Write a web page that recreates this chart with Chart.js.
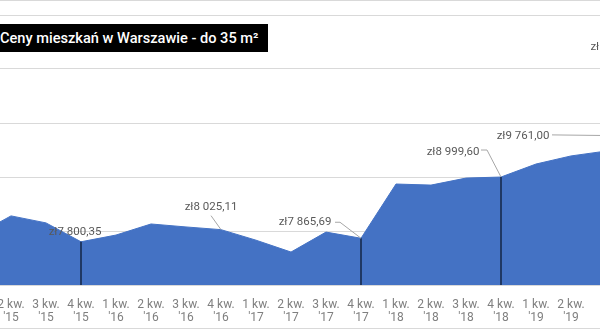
<!DOCTYPE html>
<html lang="pl">
<head>
    <meta charset="UTF-8">
    <script src="https://cdnjs.cloudflare.com/ajax/libs/Chart.js/4.4.1/chart.umd.min.js"></script>
    <title>Ceny mieszkań w Warszawie</title>
    <style>
        html, body {
            margin: 0;
            padding: 0;
            background: #fff;
            font-family: Roboto, Arial, sans-serif;
        }

        #wrap {
            position: relative;
            width: 600px;
            height: 330px;
            overflow: hidden;
        }

        #chart {
            position: absolute;
            left: 0;
            top: 0;
        }

        .frame-line {
            position: absolute;
            left: 0;
            width: 600px;
            height: 1px;
            background: #d9d9d9;
        }

        .title {
            position: absolute;
            left: 0;
            top: 24px;
            width: 268px;
            height: 28px;
            line-height: 28px;
            background: #000;
            color: #fff;
            font-size: 14.6px;
            font-weight: 500;
            white-space: nowrap;
            overflow: hidden;
        }
    </style>
</head>
<body>
    <div id="wrap">
        <canvas id="chart" width="600" height="330"></canvas>
        <div class="frame-line" style="top:0"></div>
        <div class="frame-line" style="top:328px"></div>
        <div class="title">Ceny mieszkań w Warszawie - do 35 m²</div>
    </div>
    <script>
        const quarters = ['1 kw.', '2 kw.', '3 kw.', '4 kw.', '1 kw.', '2 kw.', '3 kw.', '4 kw.', '1 kw.', '2 kw.', '3 kw.',
            '4 kw.', '1 kw.', '2 kw.', '3 kw.', '4 kw.', '1 kw.', '2 kw.', '3 kw.', '4 kw.', '1 kw.'];
        const years = ["'15", "'15", "'15", "'15", "'16", "'16", "'16", "'16", "'17", "'17", "'17",
            "'17", "'18", "'18", "'18", "'18", "'19", "'19", "'19", "'19", "'20"];
        const prices = [7925, 8280, 8150, 7800.35, 7925, 8130, 8075, 8025.11, 7830, 7610, 7980,
            7865.69, 8870, 8850, 8980, 8999.60, 9240, 9390, 9480, 9761.00, 10250];
        const yTicks = [7000, 8000, 9000, 10000, 11000, 12000];

        // punkty z etykietami (indeksy) i punkty z pionową linią do osi
        const labelled = [3, 7, 11, 15, 19, 20];
        const dropLines = [3, 11, 15];

        function formatZl(v) {
            const parts = v.toFixed(2).split('.');
            return 'zł' + parts[0].replace(/\B(?=(\d{3})+(?!\d))/g, ' ') + ',' + parts[1];
        }

        // przesunięcia etykiet względem punktu: [dx, dy, leader]
        const labelStyle = {
            3: { dx: -6, dy: -10, leader: null },
            7: { dx: -10, dy: -23, leader: [[0, 9]] },
            11: { dx: -56, dy: -16, leader: [[30, 0], [35, 0]] },
            15: { dx: -48, dy: -25, leader: [[28, -2], [34, -2]] },
            19: { dx: -118, dy: 0, leader: [[29, -1]] },
            20: { dx: -56, dy: -62, leader: null }
        };

        const dataLabels = {
            id: 'dataLabels',
            afterDatasetsDraw(chart) {
                const ctx = chart.ctx;
                const meta = chart.getDatasetMeta(0);
                const bottom = chart.chartArea.bottom;
                ctx.save();

                dropLines.forEach(i => {
                    const p = meta.data[i];
                    ctx.strokeStyle = '#1f3864';
                    ctx.lineWidth = 2;
                    ctx.beginPath();
                    ctx.moveTo(p.x, p.y);
                    ctx.lineTo(p.x, bottom);
                    ctx.stroke();
                });

                ctx.font = '11.5px Roboto';
                ctx.textAlign = 'center';
                ctx.textBaseline = 'middle';
                labelled.forEach(i => {
                    const p = meta.data[i];
                    const s = labelStyle[i];
                    const lx = p.x + s.dx, ly = p.y + s.dy;
                    if (s.leader) {
                        ctx.strokeStyle = '#a6a6a6';
                        ctx.lineWidth = 1;
                        ctx.beginPath();
                        ctx.moveTo(lx + s.leader[0][0], ly + s.leader[0][1]);
                        s.leader.slice(1).forEach(pt => ctx.lineTo(lx + pt[0], ly + pt[1]));
                        ctx.lineTo(p.x, p.y);
                        ctx.stroke();
                    }
                    ctx.fillStyle = '#595959';
                    ctx.fillText(formatZl(prices[i]), lx, ly);
                });
                ctx.restore();
            }
        };

        new Chart(document.getElementById('chart'), {
            type: 'line',
            data: {
                datasets: [{
                    data: prices.map((v, i) => ({ x: i, y: v })),
                    borderColor: '#4472c4',
                    backgroundColor: '#4472c4',
                    borderWidth: 1,
                    pointRadius: 0,
                    tension: 0,
                    fill: 'start'
                }]
            },
            options: {
                responsive: false,
                animation: false,
                layout: { padding: { top: 15, left: 0, right: 0, bottom: 0 } },
                plugins: {
                    legend: { display: false },
                    tooltip: { enabled: false }
                },
                scales: {
                    x: {
                        type: 'linear',
                        min: 24 / 35,
                        max: 24 / 35 + 600 / 35,
                        grid: { display: false },
                        border: { display: false },
                        ticks: {
                            stepSize: 1,
                            includeBounds: false,
                            autoSkip: false,
                            maxRotation: 0,
                            padding: 5,
                            color: '#7f7f7f',
                            font: { family: 'Roboto', size: 12, lineHeight: '13px' },
                            callback: v => Number.isInteger(v) && quarters[v] ? [quarters[v], years[v]] : ''
                        },
                        afterFit: s => {
                            s.height = 45;
                            s.paddingLeft = 0;
                            s.paddingRight = 0;
                        }
                    },
                    y: {
                        min: yTicks[0],
                        max: yTicks[yTicks.length - 1],
                        afterBuildTicks: s => { s.ticks = yTicks.map(v => ({ value: v })); },
                        grid: { color: '#d9d9d9', drawTicks: false },
                        border: { display: false },
                        ticks: { display: false },
                        afterFit: s => { s.width = 0; }
                    }
                }
            },
            plugins: [dataLabels]
        });
    </script>
</body>
</html>
